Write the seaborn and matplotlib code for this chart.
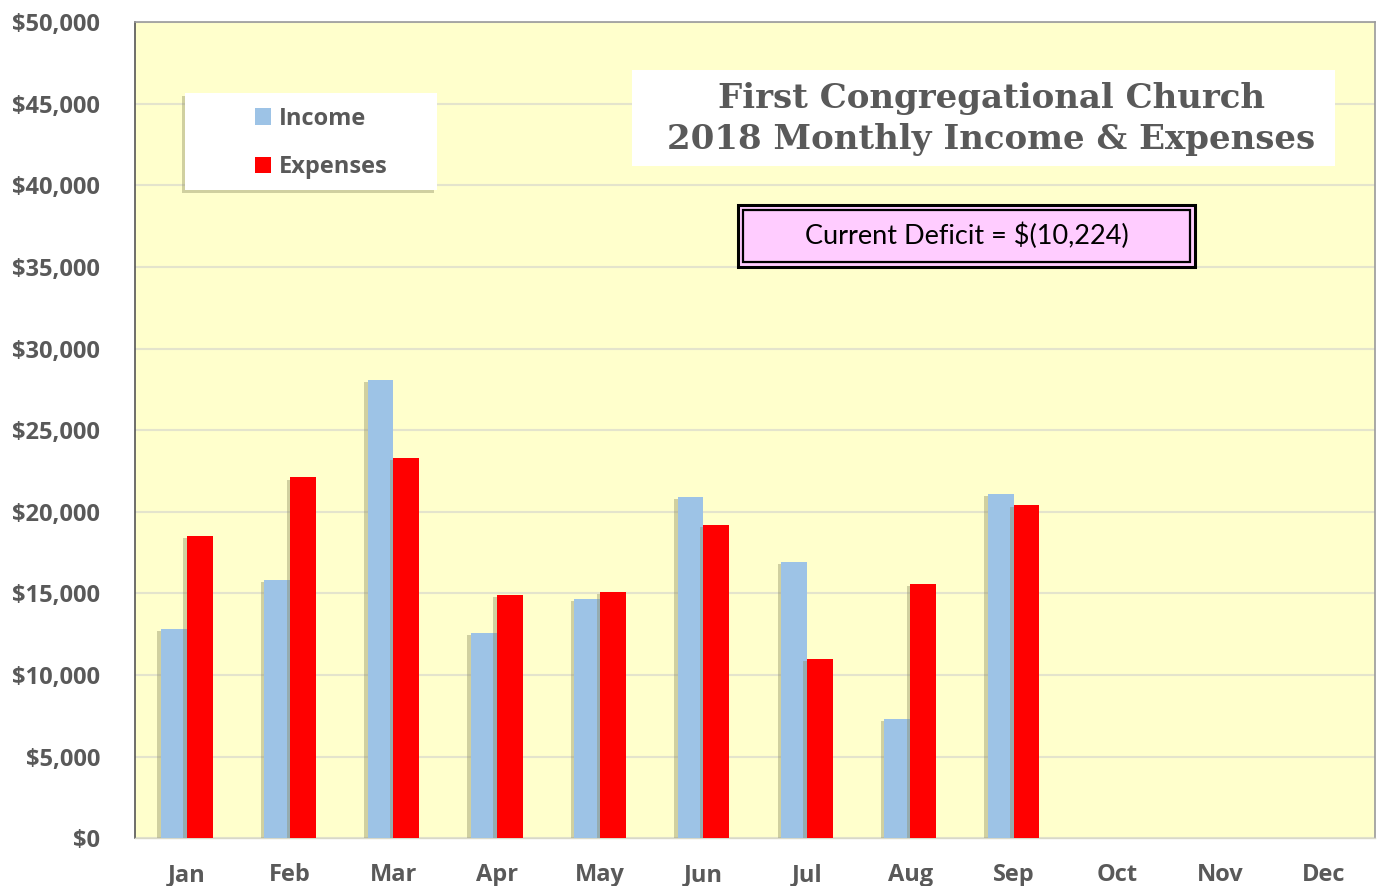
#!/usr/bin/env python3
"""
Monthly income vs expenses bar chart for the church finance report.
"""

import pandas as pd
import matplotlib.pyplot as plt
import matplotlib.patheffects as pe
from matplotlib.patches import Rectangle
from matplotlib.ticker import FuncFormatter
import seaborn as sns

# Data
MONTHS = ["Jan", "Feb", "Mar", "Apr", "May", "Jun",
          "Jul", "Aug", "Sep", "Oct", "Nov", "Dec"]
INCOME = [12800, 15800, 28100, 12600, 14650, 20900, 16900, 7300, 21100]
EXPENSES = [18500, 22100, 23300, 14900, 15100, 19200, 11000, 15600, 20400]
SERIES = ["Income", "Expenses"]
COLORS = {"Income": "#9DC3E6", "Expenses": "#FF0000"}
TITLE = "First Congregational Church\n2018 Monthly Income & Expenses"
DEFICIT = "Current Deficit = $(10,224)"
YMAX = 50000
YSTEP = 5000

TEXT_GREY = "#595959"
PLOT_BG = "#FFFFCC"


def main():
    sns.set_style("white")
    plt.rcParams["font.family"] = ["Open Sans", "DejaVu Sans"]

    rows = []
    for m, v in zip(MONTHS, INCOME):
        rows.append({"Month": m, "Series": "Income", "Amount": v})
    for m, v in zip(MONTHS, EXPENSES):
        rows.append({"Month": m, "Series": "Expenses", "Amount": v})
    df = pd.DataFrame(rows)

    fig = plt.figure(figsize=(13.78, 8.86), dpi=100)
    ax = fig.add_axes([0.098, 0.054, 0.9, 0.921])
    ax.set_facecolor(PLOT_BG)

    sns.barplot(data=df, x="Month", y="Amount", hue="Series",
                order=MONTHS, hue_order=SERIES, palette=COLORS,
                width=0.5, saturation=1, errorbar=None, linewidth=0, ax=ax)

    # grab legend handles before the bars get their shadow
    handles, labels = ax.get_legend_handles_labels()
    ax.get_legend().remove()

    # soft drop shadow on the bars
    for bar in ax.patches:
        bar.set_linewidth(0)
        bar.set_path_effects([
            pe.SimplePatchShadow(offset=(-2.5, -1.5), shadow_rgbFace="#8a8a60", alpha=0.4),
            pe.Normal(),
        ])
        bar.set_zorder(3)

    ax.set_xlim(-0.5, len(MONTHS) - 0.5)
    ax.set_ylim(0, YMAX)
    ax.set_yticks(range(0, YMAX + 1, YSTEP))
    ax.yaxis.set_major_formatter(FuncFormatter(lambda v, _: f"${v:,.0f}"))
    ax.set_xlabel("")
    ax.set_ylabel("")
    ax.grid(True, axis="y", color="#E4E4CC", linewidth=1.5, zorder=0)
    ax.set_axisbelow(True)

    ax.tick_params(axis="x", length=0, pad=18, labelsize=17, labelcolor=TEXT_GREY)
    ax.tick_params(axis="y", length=0, pad=25, labelsize=17, labelcolor=TEXT_GREY)
    for lbl in ax.get_xticklabels() + ax.get_yticklabels():
        lbl.set_fontweight("bold")

    for side in ["top", "right"]:
        ax.spines[side].set_color("#9A9A9A")
        ax.spines[side].set_linewidth(1.2)
    ax.spines["left"].set_color("#555555")
    ax.spines["left"].set_linewidth(1.2)
    ax.spines["bottom"].set_color("#D8D8C8")
    ax.spines["bottom"].set_linewidth(1.0)

    # legend inside a white shadowed panel
    panel = Rectangle((185 / 1378, 1 - 190 / 886), 252 / 1378, 97 / 886,
                      transform=fig.transFigure, facecolor="white",
                      edgecolor="none", zorder=5)
    panel.set_path_effects([
        pe.SimplePatchShadow(offset=(-2.5, -2.5), shadow_rgbFace="#8a8a60", alpha=0.4),
        pe.Normal(),
    ])
    fig.add_artist(panel)
    leg = fig.legend(handles, labels, loc="center left",
                     bbox_to_anchor=(243 / 1378, 1 - 143 / 886),
                     frameon=False, fontsize=17, handlelength=0.7,
                     handleheight=0.7, handletextpad=0.3, labelspacing=1.05,
                     borderpad=0)
    leg.set_zorder(6)
    for h in leg.legend_handles:
        h.set_linewidth(0)
        h.set_path_effects([])
    for t in leg.get_texts():
        t.set_color(TEXT_GREY)
        t.set_fontweight("bold")

    # title panel
    title_panel = Rectangle((632 / 1378, 1 - 166 / 886), 703 / 1378, 96 / 886,
                            transform=fig.transFigure, facecolor="white",
                            edgecolor="none", zorder=5)
    fig.add_artist(title_panel)
    fig.text(991 / 1378, 1 - 119 / 886, TITLE, ha="center", va="center",
             fontsize=24.5, fontweight="bold", color=TEXT_GREY,
             family="DejaVu Serif", linespacing=1.3, zorder=6)

    # deficit box with a double border
    outer = Rectangle((738 / 1378, 1 - 267 / 886), 457 / 1378, 62 / 886,
                      transform=fig.transFigure, facecolor="#FFCCFF",
                      edgecolor="black", linewidth=2.2, zorder=5)
    inner = Rectangle((743 / 1378, 1 - 262 / 886), 447 / 1378, 52 / 886,
                      transform=fig.transFigure, facecolor="none",
                      edgecolor="black", linewidth=1.6, zorder=6)
    fig.add_artist(outer)
    fig.add_artist(inner)
    fig.text(967 / 1378, 1 - 236 / 886, DEFICIT, ha="center", va="center",
             fontsize=19.5, color="black", family="Lato", zorder=7)

    fig.savefig("out.png", dpi=100, facecolor="white")


if __name__ == "__main__":
    main()
